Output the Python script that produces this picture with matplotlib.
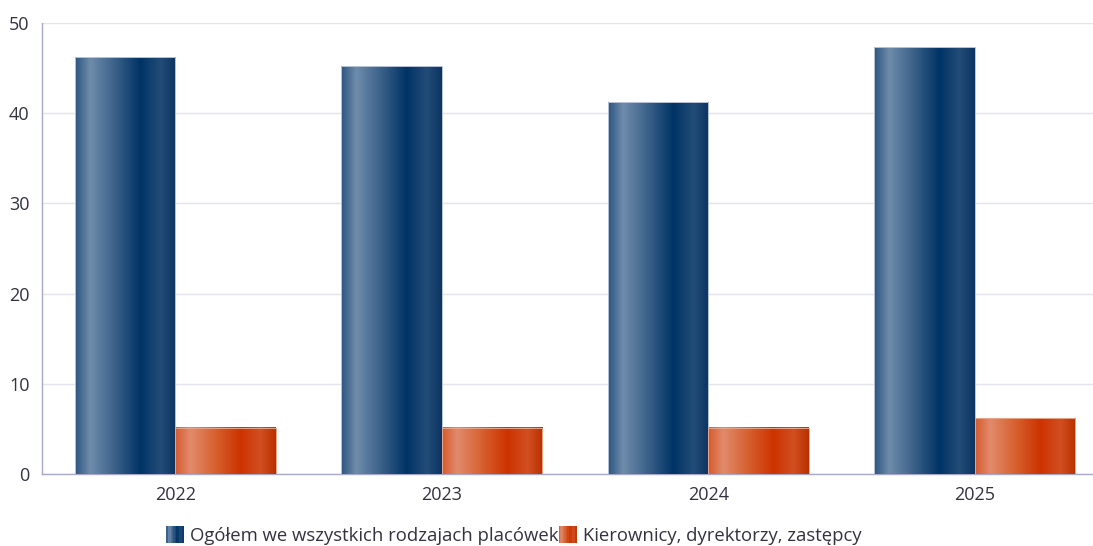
import numpy as np
import matplotlib
matplotlib.use("Agg")
import matplotlib.pyplot as plt
from matplotlib.colors import LinearSegmentedColormap
from matplotlib.patches import Rectangle
from matplotlib.legend_handler import HandlerBase

plt.rcParams['font.family'] = ['Open Sans', 'DejaVu Sans']

years = ["2022", "2023", "2024", "2025"]
total = [46.2, 45.2, 41.2, 47.3]
managers = [5.1, 5.1, 5.1, 6.2]
labels = ["Ogółem we wszystkich rodzajach placówek", "Kierownicy, dyrektorzy, zastępcy"]

stops = [0.0, 0.15, 0.4, 0.65, 0.85, 1.0]
blue_cols = ["#2c5580", "#6f8cab", "#3a6088", "#003366", "#234c78", "#0c3462"]
orange_cols = ["#d65a2e", "#e18b6c", "#d6602f", "#cc3300", "#d24f22", "#b83100"]
blue_cmap = LinearSegmentedColormap.from_list("b", list(zip(stops, blue_cols)))
orange_cmap = LinearSegmentedColormap.from_list("o", list(zip(stops, orange_cols)))
grad = np.linspace(0, 1, 256).reshape(1, -1)


def gradient_bars(ax, bars, cmap, edge):
    for b in bars:
        x0, y0 = b.get_x(), b.get_y()
        w, h = b.get_width(), b.get_height()
        ax.imshow(grad, cmap=cmap, aspect="auto", extent=(x0, x0 + w, y0, y0 + h),
                  interpolation="bicubic", zorder=3)
        b.set_facecolor("none")
        b.set_edgecolor(edge)
        b.set_linewidth(0.7)
        b.set_zorder(4)


class GradHandler(HandlerBase):
    def __init__(self, cmap):
        super().__init__()
        self.cmap = cmap

    def create_artists(self, legend, orig_handle, xdescent, ydescent, width, height, fontsize, trans):
        n = 12
        w = width
        h = height * 1.3
        x0 = -xdescent
        y0 = -ydescent - (h - height) / 2
        arts = []
        for i in range(n):
            r = Rectangle((x0 + i * w / n, y0), w / n + 0.3, h,
                          facecolor=self.cmap((i + 0.5) / n), edgecolor="none", transform=trans)
            arts.append(r)
        return arts


fig = plt.figure(figsize=(10.93, 5.46), dpi=100)
ax = fig.add_axes([42 / 1093, 72 / 546, 1066 / 1093, 451 / 546])

x = np.arange(len(years))
bw = 0.378
b1 = ax.bar(x - bw / 2, total, bw, label=labels[0])
b2 = ax.bar(x + bw / 2, managers, bw, label=labels[1])
gradient_bars(ax, b1, blue_cmap, "#b8c4d8")
gradient_bars(ax, b2, orange_cmap, "#eaa488")

ax.set_xlim(-0.5, len(years) - 0.5)
ax.set_ylim(0, 50)
ax.set_yticks([0, 10, 20, 30, 40, 50])
ax.set_xticks(x)
ax.set_xticklabels(years)
ax.tick_params(axis="both", length=0, labelsize=13, colors="#333340")
ax.tick_params(axis="y", pad=9)
ax.tick_params(axis="x", pad=9)
ax.grid(axis="y", color="#e4e4ec", linewidth=1)
ax.set_axisbelow(True)
for s in ["top", "right"]:
    ax.spines[s].set_visible(False)
for s in ["left", "bottom"]:
    ax.spines[s].set_color("#a8a8c8")
    ax.spines[s].set_linewidth(1)

h1 = Rectangle((0, 0), 1, 1)
h2 = Rectangle((0, 0), 1, 1)
fig.legend([h1, h2], labels, loc="lower center", bbox_to_anchor=(0.47, -0.028), ncol=2,
           frameon=False, fontsize=13.3, handlelength=0.95, handletextpad=0.35,
           columnspacing=0.0, labelcolor="#333340",
           handler_map={h1: GradHandler(blue_cmap), h2: GradHandler(orange_cmap)})

fig.savefig("out.png", dpi=100)
